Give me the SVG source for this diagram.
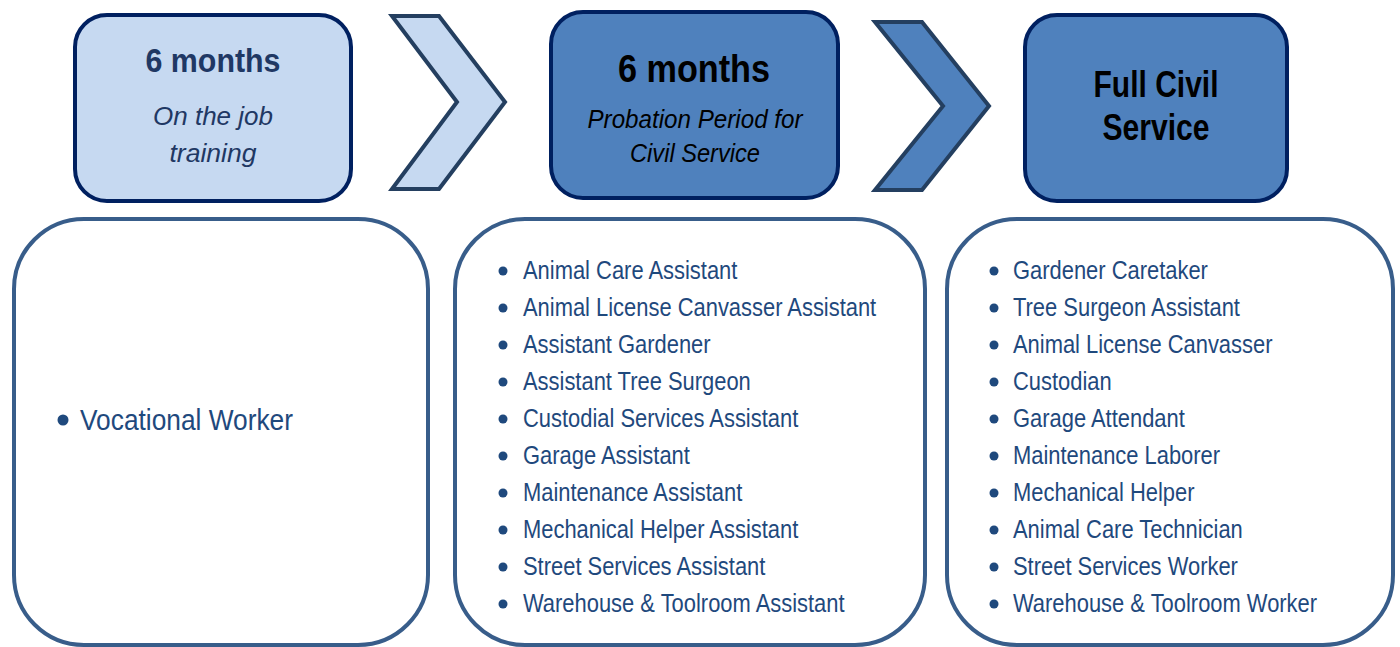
<svg xmlns="http://www.w3.org/2000/svg" width="1400" height="647" viewBox="0 0 1400 647">
<style>
.hdr{stroke:#002060;stroke-width:4}
.light{fill:#c6d9f1}
.dark{fill:#4f81bd}
.chev{stroke:#243f60;stroke-width:4;stroke-linejoin:miter}
.list{fill:#fff;stroke:#385d8a;stroke-width:4}
.t{font-family:"Liberation Sans",Arial,sans-serif;}
.b{font-weight:bold;text-anchor:middle}
.i{font-style:italic;text-anchor:middle}
.li{font-size:25px;fill:#1f497d}
.dot{fill:#1f497d}
</style>
<rect width="1400" height="647" fill="#fff"/>
<g id="connectors">
<polygon class="chev light" points="392,16 439,16 505,102 439,189 392,189 457,102"/>
<polygon class="chev dark" points="875,22 922,22 989,106 922,190 875,190 943,106"/>
</g>
<g id="stage1">
<rect class="hdr light" x="75" y="15" width="276" height="186" rx="32"/>
<text class="t b" x="213" y="72" font-size="34" fill="#1f3864" textLength="135" lengthAdjust="spacingAndGlyphs">6 months</text>
<text class="t i" x="213" y="125" font-size="26" fill="#1f3864" textLength="120" lengthAdjust="spacingAndGlyphs">On the job</text>
<text class="t i" x="213" y="162" font-size="26" fill="#1f3864" textLength="87" lengthAdjust="spacingAndGlyphs">training</text>
</g>
<g id="stage2">
<rect class="hdr dark" x="551" y="12" width="287" height="186" rx="32"/>
<text class="t b" x="694" y="82" font-size="38" fill="#000" textLength="152" lengthAdjust="spacingAndGlyphs">6 months</text>
<text class="t i" x="695" y="128" font-size="26" fill="#000" textLength="215" lengthAdjust="spacingAndGlyphs">Probation Period for</text>
<text class="t i" x="695" y="162" font-size="26" fill="#000" textLength="130" lengthAdjust="spacingAndGlyphs">Civil Service</text>
</g>
<g id="stage3">
<rect class="hdr dark" x="1025" y="15" width="262" height="186" rx="32"/>
<text class="t b" x="1156" y="97" font-size="37" fill="#000" textLength="125" lengthAdjust="spacingAndGlyphs">Full Civil</text>
<text class="t b" x="1156" y="140" font-size="37" fill="#000" textLength="107" lengthAdjust="spacingAndGlyphs">Service</text>
</g>
<g id="list1">
<rect class="list" x="14" y="219" width="414" height="426" rx="70"/>
<circle class="dot" cx="63" cy="420" r="5.5"/>
<text class="t" x="80" y="430" font-size="30" fill="#1f497d" textLength="213" lengthAdjust="spacingAndGlyphs">Vocational Worker</text>
</g>
<g id="list2">
<rect class="list" x="455" y="219" width="470" height="426" rx="70"/>
<g class="dot">
<circle cx="503" cy="271" r="4.5"/><circle cx="503" cy="308" r="4.5"/><circle cx="503" cy="345" r="4.5"/><circle cx="503" cy="382" r="4.5"/><circle cx="503" cy="419" r="4.5"/><circle cx="503" cy="456" r="4.5"/><circle cx="503" cy="493" r="4.5"/><circle cx="503" cy="530" r="4.5"/><circle cx="503" cy="567" r="4.5"/><circle cx="503" cy="604" r="4.5"/>
</g>
<g class="t li" transform="translate(523,0) scale(0.877,1)">
<text x="0" y="279">Animal Care Assistant</text>
<text x="0" y="316">Animal License Canvasser Assistant</text>
<text x="0" y="353">Assistant Gardener</text>
<text x="0" y="390">Assistant Tree Surgeon</text>
<text x="0" y="427">Custodial Services Assistant</text>
<text x="0" y="464">Garage Assistant</text>
<text x="0" y="501">Maintenance Assistant</text>
<text x="0" y="538">Mechanical Helper Assistant</text>
<text x="0" y="575">Street Services Assistant</text>
<text x="0" y="612">Warehouse &amp; Toolroom Assistant</text>
</g>
</g>
<g id="list3">
<rect class="list" x="947" y="219" width="446" height="426" rx="70"/>
<g class="dot">
<circle cx="994" cy="271" r="4.5"/><circle cx="994" cy="308" r="4.5"/><circle cx="994" cy="345" r="4.5"/><circle cx="994" cy="382" r="4.5"/><circle cx="994" cy="419" r="4.5"/><circle cx="994" cy="456" r="4.5"/><circle cx="994" cy="493" r="4.5"/><circle cx="994" cy="530" r="4.5"/><circle cx="994" cy="567" r="4.5"/><circle cx="994" cy="604" r="4.5"/>
</g>
<g class="t li" transform="translate(1013,0) scale(0.877,1)">
<text x="0" y="279">Gardener Caretaker</text>
<text x="0" y="316">Tree Surgeon Assistant</text>
<text x="0" y="353">Animal License Canvasser</text>
<text x="0" y="390">Custodian</text>
<text x="0" y="427">Garage Attendant</text>
<text x="0" y="464">Maintenance Laborer</text>
<text x="0" y="501">Mechanical Helper</text>
<text x="0" y="538">Animal Care Technician</text>
<text x="0" y="575">Street Services Worker</text>
<text x="0" y="612">Warehouse &amp; Toolroom Worker</text>
</g>
</g>
</svg>
